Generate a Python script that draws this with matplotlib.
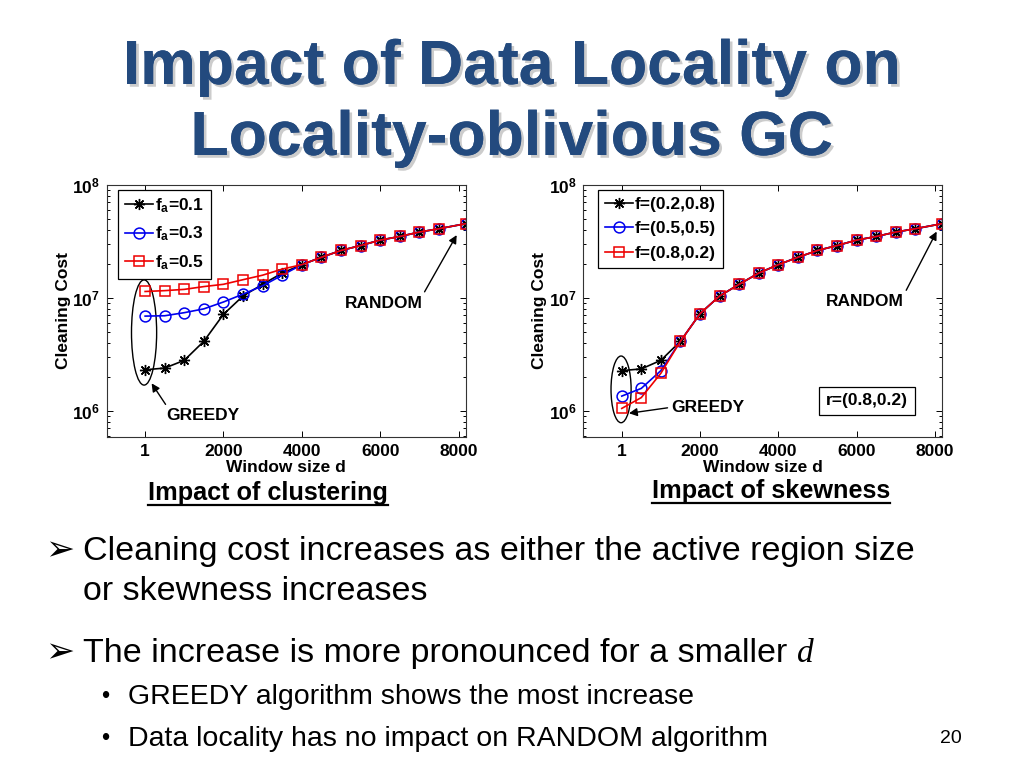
"""
Slide: Impact of Data Locality on Locality-oblivious GC
Dois gráficos log (custo de limpeza x tamanho de janela) + bullets de texto
"""
import matplotlib
matplotlib.use("Agg")
import matplotlib.pyplot as plt
import matplotlib.patheffects as pe
from matplotlib.patches import Ellipse
from matplotlib.lines import Line2D

plt.rcParams["font.family"] = ["Liberation Sans", "DejaVu Sans"]
plt.rcParams["mathtext.fontset"] = "custom"
plt.rcParams["mathtext.rm"] = "Liberation Sans:bold"
plt.rcParams["mathtext.it"] = "Liberation Sans:bold"
plt.rcParams["mathtext.bf"] = "Liberation Sans:bold"

# 1. Dados
window = [1, 500, 1000, 1500, 2000, 2500, 3000, 3500, 4000, 4500,
          5000, 5500, 6000, 6500, 7000, 7500, 8192]

# cauda comum (RANDOM domina para janelas grandes)
tail = [1.97e7, 2.29e7, 2.63e7, 2.91e7, 3.25e7, 3.50e7, 3.83e7, 4.10e7, 4.55e7]

# Impact of clustering
fa_labels = ["f$_{a}$=0.1", "f$_{a}$=0.3", "f$_{a}$=0.5"]
fa_01 = [2.31e6, 2.39e6, 2.80e6, 4.13e6, 7.15e6, 1.04e7, 1.32e7, 1.66e7] + tail
fa_03 = [6.90e6, 6.95e6, 7.40e6, 8.00e6, 9.20e6, 1.08e7, 1.28e7, 1.59e7] + tail
fa_05 = [1.14e7, 1.16e7, 1.19e7, 1.26e7, 1.32e7, 1.45e7, 1.59e7, 1.80e7] + tail

# Impact of skewness
f_labels = ["f=(0.2,0.8)", "f=(0.5,0.5)", "f=(0.8,0.2)"]
f_28 = [2.27e6, 2.35e6, 2.80e6, 4.13e6, 7.25e6, 1.04e7, 1.32e7, 1.66e7] + tail
f_55 = [1.35e6, 1.58e6, 2.27e6, 4.13e6, 7.25e6, 1.04e7, 1.32e7, 1.66e7] + tail
f_82 = [1.05e6, 1.31e6, 2.15e6, 4.13e6, 7.25e6, 1.04e7, 1.32e7, 1.66e7] + tail

xticks = [1, 2000, 4000, 6000, 8000]
yticks = [1e6, 1e7, 1e8]
ytick_labels = [r"$10^{6}$", r"$10^{7}$", r"$10^{8}$"]

W, H = 1024, 768
TITLE_COLOR = "#234a7e"


def px(x, y):
    # pixel do slide -> fração da figura
    return x / W, 1 - y / H


fig = plt.figure(figsize=(10.24, 7.68), dpi=100)
fig.patch.set_facecolor("white")

# 2. Título com sombra
shadow = [pe.withSimplePatchShadow(offset=(2, -2), shadow_rgbFace="#9a9a9a", alpha=0.5),
          pe.Normal()]
for txt, yb in [("Impact of Data Locality on", 84), ("Locality-oblivious GC", 155)]:
    fig.text(*px(512, yb), txt, ha="center", va="baseline", fontsize=45,
             fontweight="bold", color=TITLE_COLOR, path_effects=shadow)


def draw_panel(ax, series, labels, leg_x):
    styles = [dict(color="black", marker=(8, 2, 0), ms=8, mew=1.0),
              dict(color="#0000ee", marker="o", ms=7.8, mfc="none", mew=1.1),
              dict(color="#ee0000", marker="s", ms=6.6, mfc="none", mew=1.1)]
    for ys, lab, st in zip(series, labels, styles):
        ax.plot(window, ys, lw=1.2, label=lab, **st)
    ax.set_yscale("log")
    ax.set_xlim(-980, 8192)
    ax.set_ylim(5.9e5, 1e8)
    ax.set_xticks(xticks)
    ax.set_xticklabels([str(t) for t in xticks], fontweight="bold", fontsize=12.5)
    ax.set_yticks(yticks)
    ax.set_yticklabels(ytick_labels, fontsize=12.5)
    ax.tick_params(which="both", direction="in", top=True, right=True, width=0.7)
    ax.tick_params(which="major", length=4, pad=5)
    ax.tick_params(which="minor", length=2.5)
    ax.tick_params(axis="x", which="minor", bottom=False, top=False)
    for s in ax.spines.values():
        s.set_linewidth(0.8)
        s.set_color("#333333")
    ax.set_xlabel("Window size d", fontweight="bold", fontsize=12.5, labelpad=1)
    ax.set_ylabel("Cleaning Cost", fontweight="bold", fontsize=12.5, labelpad=1)
    leg = ax.legend(loc="upper left", bbox_to_anchor=(leg_x, 0.982), borderaxespad=0,
                    fancybox=False, edgecolor="black", framealpha=1,
                    prop=dict(weight="bold", size=12.5), handlelength=1.65,
                    handletextpad=0.1, borderpad=0.4, labelspacing=0.55)
    leg.get_frame().set_linewidth(0.9)


arrow = dict(arrowstyle="-|>", color="black", lw=1.0, mutation_scale=12, shrinkA=1, shrinkB=0)
ann_font = dict(fontsize=12.5, fontweight="bold")

# 3. Painel esquerdo: clustering
ax1 = fig.add_axes([0.1042, 0.4314, 0.3509, 0.3277])
draw_panel(ax1, [fa_01, fa_03, fa_05], fa_labels, 0.031)
ax1.add_patch(Ellipse((0.104, 0.414), 0.07, 0.418, transform=ax1.transAxes,
                      fill=False, lw=1.0, ec="black"))
ax1.annotate("GREEDY", xy=(0.125, 0.212), xytext=(0.167, 0.083), xycoords="axes fraction",
             ha="left", va="center", arrowprops=dict(relpos=(0.02, 1.0), **arrow), **ann_font)
ax1.annotate("RANDOM", xy=(0.974, 0.801), xytext=(0.77, 0.53), xycoords="axes fraction",
             ha="center", va="center", arrowprops=dict(relpos=(1.0, 1.0), **arrow), **ann_font)

# 4. Painel direito: skewness
ax2 = fig.add_axes([0.5697, 0.4314, 0.3506, 0.3277])
draw_panel(ax2, [f_28, f_55, f_82], f_labels, 0.040)
ax2.add_patch(Ellipse((0.105, 0.188), 0.056, 0.265, transform=ax2.transAxes,
                      fill=False, lw=1.0, ec="black"))
ax2.annotate("GREEDY", xy=(0.127, 0.093), xytext=(0.246, 0.117), xycoords="axes fraction",
             ha="left", va="center", arrowprops=dict(relpos=(0.0, 0.5), **arrow), **ann_font)
ax2.annotate("RANDOM", xy=(0.984, 0.815), xytext=(0.785, 0.536), xycoords="axes fraction",
             ha="center", va="center", arrowprops=dict(relpos=(1.0, 1.0), **arrow), **ann_font)
ax2.text(0.79, 0.143, "r=(0.8,0.2)", transform=ax2.transAxes, ha="center", va="center",
         bbox=dict(boxstyle="square,pad=0.38", fc="white", ec="black", lw=0.9), **ann_font)

# 5. Legendas sublinhadas
renderer = fig.canvas.get_renderer()
for txt, xc, yb in [("Impact of clustering", 268, 500), ("Impact of skewness", 771, 498)]:
    t = fig.text(*px(xc, yb), txt, ha="center", va="baseline", fontsize=18.2,
                 fontweight="bold")
    bb = t.get_window_extent(renderer).transformed(fig.transFigure.inverted())
    yline = px(0, yb + 5)[1]
    fig.add_artist(Line2D([bb.x0, bb.x1], [yline, yline], color="black", lw=1.6))

# 6. Bullets
body = dict(fontsize=24.5, va="baseline", ha="left")
sub = dict(fontsize=20.5, va="baseline", ha="left")
arrowhead = dict(family=["DejaVu Sans"], fontsize=25, va="baseline", fontweight="bold")
fig.text(*px(45, 560), "\u27a2", **arrowhead)
fig.text(*px(83, 560), "Cleaning cost increases as either the active region size", **body)
fig.text(*px(83, 600), "or skewness increases", **body)
fig.text(*px(45, 662), "\u27a2", **arrowhead)
t = fig.text(*px(83, 662), "The increase is more pronounced for a smaller ", **body)
bb = t.get_window_extent(renderer).transformed(fig.transFigure.inverted())
fig.text(bb.x1, px(0, 662)[1], "d", family=["Liberation Serif"], style="italic",
         fontsize=24, va="baseline", ha="left")
fig.text(*px(101, 703), "\u2022", fontsize=17, va="baseline")
fig.text(*px(128, 704), "GREEDY algorithm shows the most increase", **sub)
fig.text(*px(101, 745), "\u2022", fontsize=17, va="baseline")
fig.text(*px(128, 746), "Data locality has no impact on RANDOM algorithm", **sub)
fig.text(*px(951, 743), "20", fontsize=14, va="baseline", ha="center")

plt.savefig("out.png", dpi=100)
